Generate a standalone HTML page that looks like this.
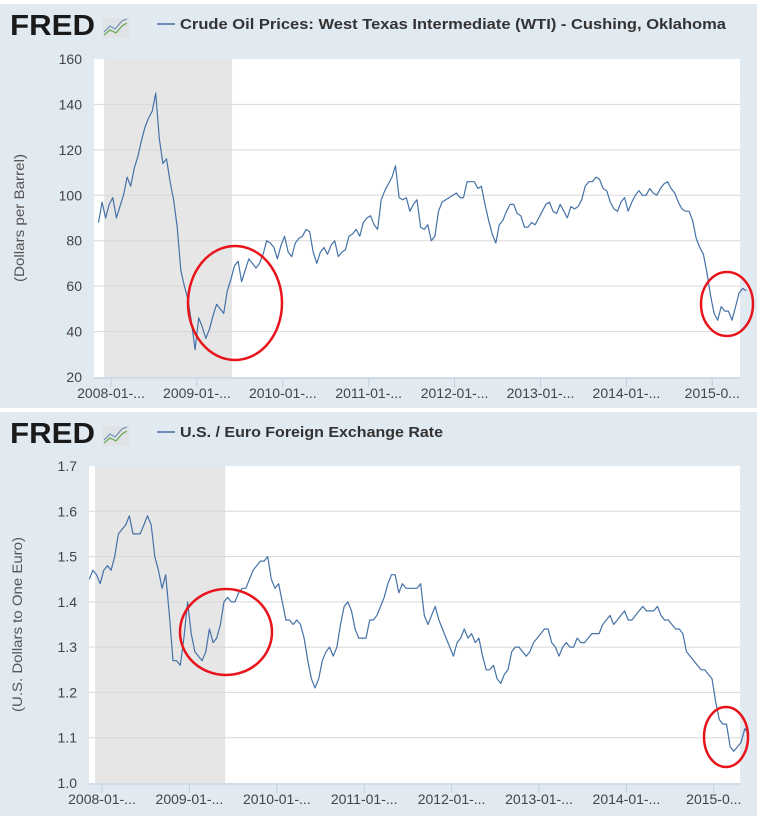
<!DOCTYPE html>
<html><head><meta charset="utf-8"><style>
body{margin:0;width:759px;height:822px;background:#fff;overflow:hidden}
svg{display:block}
text{font-family:"Liberation Sans","DejaVu Sans",sans-serif}
</style></head><body>
<svg id="c" width="759" height="822"></svg>
<script>
const oilYears = ["2008-01-...","2009-01-...","2010-01-...","2011-01-...","2012-01-...","2013-01-...","2014-01-...","2015-0..."];
const oilTicks = [20,40,60,80,100,120,140,160];
const oilValues = [88,97,90,96,99,90,95,100,108,104,112,117,124,130,134,137,145,125,114,116,106,98,86,67,60,54,44,32,
46,42,37,41,47,52,50,48,58,63,69,71,62,67,72,70,68,70,74,80,79,77,72,78,
82,75,73,79,81,82,85,84,75,70,75,77,74,78,80,73,75,76,82,83,85,82,88,90,
91,87,85,98,102,105,108,113,99,98,99,93,96,98,86,85,87,80,82,93,97,98,99,100,
101,99,99,106,106,106,103,104,96,89,83,79,87,89,93,96,96,92,91,86,86,88,87,90,
93,96,97,93,92,96,93,90,95,94,95,98,104,106,106,108,107,103,102,97,94,93,97,99,
93,97,100,102,100,100,103,101,100,103,105,106,103,101,97,94,93,93,89,81,77,74,66,56,
48,45,51,49,49,45,51,57,59,58];
const fxTicks = [1.0,1.1,1.2,1.3,1.4,1.5,1.6,1.7];
const fxValues = [1.45,1.47,1.46,1.44,1.47,1.48,1.47,1.50,1.55,1.56,1.57,1.59,1.55,1.55,1.55,1.57,1.59,1.57,1.50,1.47,1.43,1.46,1.37,1.27,1.27,1.26,1.32,1.40,
1.33,1.29,1.28,1.27,1.29,1.34,1.31,1.32,1.35,1.40,1.41,1.40,1.40,1.42,1.43,1.43,1.45,1.47,1.48,1.49,1.49,1.50,1.45,1.43,
1.44,1.40,1.36,1.36,1.35,1.36,1.35,1.32,1.27,1.23,1.21,1.23,1.27,1.29,1.30,1.28,1.30,1.35,1.39,1.40,1.38,1.34,1.32,1.32,
1.32,1.36,1.36,1.37,1.39,1.41,1.44,1.46,1.46,1.42,1.44,1.43,1.43,1.43,1.43,1.44,1.37,1.35,1.37,1.39,1.36,1.34,1.32,1.30,
1.28,1.31,1.32,1.34,1.32,1.33,1.31,1.32,1.28,1.25,1.25,1.26,1.23,1.22,1.24,1.25,1.29,1.30,1.30,1.29,1.28,1.29,1.31,1.32,
1.33,1.34,1.34,1.31,1.30,1.28,1.30,1.31,1.30,1.30,1.32,1.31,1.31,1.32,1.33,1.33,1.33,1.35,1.36,1.37,1.35,1.36,1.37,1.38,
1.36,1.36,1.37,1.38,1.39,1.38,1.38,1.38,1.39,1.37,1.36,1.36,1.35,1.34,1.34,1.33,1.29,1.28,1.27,1.26,1.25,1.25,1.24,1.23,
1.18,1.14,1.13,1.13,1.08,1.07,1.08,1.09,1.12,1.11];

const NS="http://www.w3.org/2000/svg";
const svg=document.getElementById('c');
function mk(tag,attrs,parent,txt){const e=document.createElementNS(NS,tag);for(const k in attrs)e.setAttribute(k,attrs[k]);if(txt!==undefined)e.textContent=txt;(parent||svg).appendChild(e);return e;}
function tOf(i){return 2007+10/12+i/24+1/48;}

function panel(cfg){
  const g=mk('g',{});
  
  
  const bg=mk('rect',{x:0,y:cfg.py,width:757,height:cfg.ph,fill:'#e1e9f1'},g);
  
  
  const logo=mk('text',{x:10,y:cfg.py+31,'font-size':29,'font-weight':'bold',fill:'#1a1a1a',textLength:85,lengthAdjust:'spacingAndGlyphs'},g,'FRED');
  
  
  const ic=mk('g',{},g);
  
  
  mk('rect',{x:103,y:cfg.py+14,width:26,height:20,fill:'#dfe3e6'},ic);
  mk('polyline',{points:`104,${cfg.py+28} 110,${cfg.py+22} 115,${cfg.py+25} 122,${cfg.py+17} 127,${cfg.py+15}`,fill:'none',stroke:'#6f8fb8','stroke-width':1.2},ic);
  mk('polyline',{points:`104,${cfg.py+31} 110,${cfg.py+26} 116,${cfg.py+29} 122,${cfg.py+22} 127,${cfg.py+19}`,fill:'none',stroke:'#6aa84f','stroke-width':1.2},ic);
  const lg=mk('line',{x1:cfg.lx,y1:cfg.py+20,x2:cfg.lx+18,y2:cfg.py+20,stroke:'#4572a7','stroke-width':1.5},g);
  
  
  const lt=mk('text',{x:cfg.lx+23,y:cfg.py+25,'font-size':14.5,'font-weight':'bold',fill:'#333',textLength:cfg.tlen,lengthAdjust:'spacingAndGlyphs'},g,cfg.title);
  
  
  const L=cfg.L,R=cfg.R,T=cfg.T,B=cfg.B;
  const pa=mk('rect',{x:L,y:T,width:R-L,height:B-T,fill:'#fff'},g);
  
  
  const xs=t=>cfg.x0+(t-2008)*cfg.xpy;
  const ys=v=>B-(v-cfg.ymin)/(cfg.ymax-cfg.ymin)*(B-T);
  const rec=mk('rect',{x:xs(2007.92),y:T,width:xs(2009.41)-xs(2007.92),height:B-T,fill:'#e6e6e6'},g);
  
  
  cfg.ticks.forEach(v=>{
    const y=ys(v);
    if(v>cfg.ymin&&v<cfg.ymax){const gl=mk('line',{x1:L,y1:y,x2:R,y2:y,stroke:'#d8d8d8','stroke-width':1},g);
      
      }
    const tl=mk('text',{x:L-12,y:y+5,'font-size':14,fill:'#444','text-anchor':'end'},g,cfg.fmt(v));
    
    
  });
  const ax=mk('line',{x1:L,y1:B+1,x2:R,y2:B+1,stroke:'#c0d0e0','stroke-width':1},g);
  
  
  oilYears.forEach((lab,i)=>{
    const x=xs(2008+i);
    const tk=mk('line',{x1:x,y1:B+1,x2:x,y2:B+10,stroke:'#c0d0e0'},g);
    
    
    const tl=mk('text',{x:x,y:B+21,'font-size':14,fill:'#444','text-anchor':'middle'},g,lab);
    
    
  });
  const cy=(T+B)/2;
  const at=mk('text',{x:0,y:0,'font-size':13.5,fill:'#555','text-anchor':'middle',textLength:cfg.alen,lengthAdjust:'spacingAndGlyphs',transform:`translate(${cfg.atx},${cy}) rotate(-90)`},g,cfg.axisTitle);
  
  
  const pts=cfg.values.map((v,i)=>xs(tOf(i)).toFixed(1)+','+ys(v).toFixed(1)).join(' ');
  const ln=mk('polyline',{points:pts,fill:'none',stroke:'#4572a7','stroke-width':1.2,'stroke-linejoin':'round'},g);
  
  
  cfg.circles.forEach(c=>{
    const e=mk('ellipse',{cx:c[0],cy:c[1],rx:c[2],ry:c[3],fill:'none',stroke:'#e8141b','stroke-width':2.5},g);
    
    
  });
}
panel({name:'oil-price-chart',py:4,ph:404,lx:157,title:'Crude Oil Prices: West Texas Intermediate (WTI) - Cushing, Oklahoma',tlen:546,
  L:94,R:740,T:59,B:377,x0:111,xpy:85.9,ymin:20,ymax:160,ticks:oilTicks,fmt:v=>String(v),values:oilValues,
  axisTitle:'(Dollars per Barrel)',alen:128,atx:24,circles:[[235,303,47,57],[727,304,26,32]]});
panel({name:'fx-rate-chart',py:412,ph:404,lx:157,title:'U.S. / Euro Foreign Exchange Rate',tlen:263,
  L:89,R:740,T:466,B:783,x0:102,xpy:87.4,ymin:1.0,ymax:1.7,ticks:fxTicks,fmt:v=>v.toFixed(1),values:fxValues,
  axisTitle:'(U.S. Dollars to One Euro)',alen:175,atx:22,circles:[[226,632,46,43],[726,737,22,30]]});
</script>
</body></html>
